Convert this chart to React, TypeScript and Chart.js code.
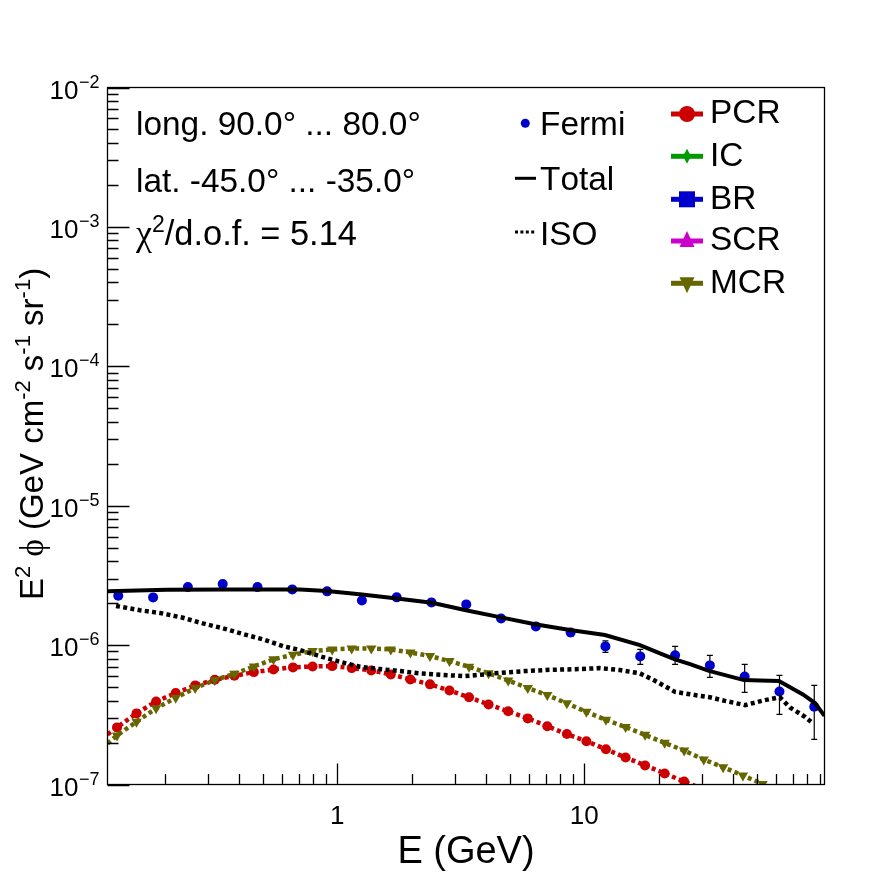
import React, { useEffect, useRef } from 'react';
import Chart from 'chart.js/auto';

// energies in GeV
const xMin = 0.1174;
const xMax = 93.9;
const yMin = 1e-7;
const yMax = 1e-2;

const fermiE = [0.1298, 0.1796, 0.2484, 0.3436, 0.4753, 0.6573, 0.9094, 1.258, 1.74, 2.406, 3.328, 4.604, 6.369, 8.807, 12.18, 16.85, 23.32, 32.25, 44.61, 61.71, 85.34];
const fermiValues = [2.258e-6, 2.199e-6, 2.607e-6, 2.739e-6, 2.607e-6, 2.51e-6, 2.43e-6, 2.09e-6, 2.2e-6, 2.025e-6, 1.959e-6, 1.554e-6, 1.362e-6, 1.233e-6, 9.79e-7, 8.3e-7, 8.44e-7, 7.15e-7, 5.96e-7, 4.65e-7, 3.61e-7];
const fermiHigh = [2.33e-6, 2.27e-6, 2.69e-6, 2.82e-6, 2.69e-6, 2.59e-6, 2.5e-6, 2.16e-6, 2.27e-6, 2.09e-6, 2.03e-6, 1.61e-6, 1.42e-6, 1.29e-6, 1.074e-6, 9.31e-7, 9.79e-7, 8.44e-7, 7.27e-7, 6.06e-7, 5.14e-7];
const fermiLow = [2.19e-6, 2.13e-6, 2.53e-6, 2.66e-6, 2.53e-6, 2.43e-6, 2.36e-6, 2.02e-6, 2.13e-6, 1.96e-6, 1.89e-6, 1.5e-6, 1.31e-6, 1.16e-6, 8.86e-7, 7.27e-7, 7.27e-7, 5.87e-7, 4.58e-7, 3.18e-7, 2.11e-7];

const totalE = [0.1174, 0.2038, 0.3678, 0.7063, 0.9085, 1.259, 1.745, 2.418, 3.319, 4.6, 6.315, 8.752, 12.13, 16.81, 20.26, 23.3, 26.8, 31.99, 44.3, 51.5, 61.4, 71.3, 76.8, 85.9, 93.9];
const totalValues = [2.43e-6, 2.5e-6, 2.51e-6, 2.51e-6, 2.44e-6, 2.31e-6, 2.16e-6, 2.01e-6, 1.78e-6, 1.58e-6, 1.41e-6, 1.285e-6, 1.18e-6, 1e-6, 8.72e-7, 7.9e-7, 7.31e-7, 6.54e-7, 5.61e-7, 5.57e-7, 5.52e-7, 4.76e-7, 4.43e-7, 3.84e-7, 3.11e-7];

const isoE = [0.1271, 0.1589, 0.1916, 0.2373, 0.286, 0.3445, 0.423, 0.5001, 0.6029, 0.7063, 0.8673, 1.025, 1.236, 1.489, 1.794, 2.162, 2.605, 3.289, 3.782, 4.557, 5.752, 7.261, 9.608, 11.58, 13.95, 16.81, 19.33, 23.3, 28.06, 32.28, 37.12, 44.74, 53.9, 62, 68.06, 78.26, 82.78];
const isoValues = [1.91e-6, 1.78e-6, 1.7e-6, 1.57e-6, 1.43e-6, 1.32e-6, 1.19e-6, 1.1e-6, 9.83e-7, 9.21e-7, 8.24e-7, 7.59e-7, 6.99e-7, 6.73e-7, 6.51e-7, 6.27e-7, 6.12e-7, 5.99e-7, 6.12e-7, 6.33e-7, 6.51e-7, 6.65e-7, 6.73e-7, 6.84e-7, 6.62e-7, 6.27e-7, 5.55e-7, 4.62e-7, 4.38e-7, 4.22e-7, 3.98e-7, 3.71e-7, 4.03e-7, 4.22e-7, 3.57e-7, 3.06e-7, 2.82e-7];

const modelE = [0.1174, 0.1283, 0.1539, 0.1847, 0.2217, 0.2659, 0.3192, 0.3832, 0.4596, 0.5517, 0.6616, 0.7943, 0.9537, 1.144, 1.373, 1.647, 1.977, 2.373, 2.846, 3.416, 4.098, 4.919, 5.906, 7.084, 8.503, 10.2, 12.24, 14.7, 17.63, 21.16, 25.38, 30.46, 36.5, 43.9, 52.7, 63.2];
const pcrValues = [2.29e-7, 2.568e-7, 3.236e-7, 3.945e-7, 4.525e-7, 5.14e-7, 5.64e-7, 6.02e-7, 6.4e-7, 6.69e-7, 6.92e-7, 7.03e-7, 7.07e-7, 6.84e-7, 6.58e-7, 6.16e-7, 5.67e-7, 5.23e-7, 4.73e-7, 4.22e-7, 3.75e-7, 3.35e-7, 2.98e-7, 2.62e-7, 2.3e-7, 2.04e-7, 1.79e-7, 1.56e-7, 1.37e-7, 1.2e-7, 1.05e-7, 9.2e-8];
const mcrValues = [1.97e-7, 2.25e-7, 2.82e-7, 3.52e-7, 4.19e-7, 4.92e-7, 5.61e-7, 6.22e-7, 7.03e-7, 7.9e-7, 8.52e-7, 9.06e-7, 9.31e-7, 9.47e-7, 9.47e-7, 9.31e-7, 8.86e-7, 8.34e-7, 7.68e-7, 6.99e-7, 6.27e-7, 5.58e-7, 4.92e-7, 4.38e-7, 3.82e-7, 3.32e-7, 2.91e-7, 2.58e-7, 2.27e-7, 1.99e-7, 1.75e-7, 1.51e-7, 1.33e-7, 1.16e-7, 1.01e-7, 8.8e-8];

const xTicks = [0.2, 0.3, 0.4, 0.5, 0.6, 0.7, 0.8, 0.9, 1, 2, 3, 4, 5, 6, 7, 8, 9, 10, 20, 30, 40, 50, 60, 70, 80, 90];
const xLabelled = [1, 10];
const yDecades = [1e-7, 1e-6, 1e-5, 1e-4, 1e-3, 1e-2];
const yExponents = ['\u22127', '\u22126', '\u22125', '\u22124', '\u22123', '\u22122'];
const yMinorSteps = [2, 3, 4, 5, 6, 7, 8, 9];

const infoLines = ['long. 90.0\u00b0 ... 80.0\u00b0', 'lat. -45.0\u00b0 ... -35.0\u00b0'];
const rightNames = ['PCR', 'IC', 'BR', 'SCR', 'MCR'];

const RED = '#cc0000';
const GREEN = '#009900';
const BLUE = '#0000cc';
const MAGENTA = '#cc00cc';
const OLIVE = '#666600';

const SANS = '"Liberation Sans"';
const SERIF = '"Liberation Serif"';

const zip = (xs: number[], ys: number[]) => ys.map((y, i) => ({ x: xs[i], y }));

const yTicks: number[] = [];
yDecades.forEach((d, i) => {
  yTicks.push(d);
  if (i < yDecades.length - 1) yMinorSteps.forEach(m => yTicks.push(d * m));
});

type Seg = { text: string; font: string; dy?: number };

const drawSegs = (ctx: CanvasRenderingContext2D, segs: Seg[], x: number, y: number) => {
  let cx = x;
  segs.forEach(s => {
    ctx.font = s.font;
    ctx.fillText(s.text, cx, y + (s.dy || 0));
    cx += ctx.measureText(s.text).width;
  });
};

const marker = (ctx: CanvasRenderingContext2D, kind: string, x: number, y: number, c: string) => {
  ctx.fillStyle = c;
  ctx.beginPath();
  if (kind === 'circle') {
    ctx.arc(x, y, 8, 0, Math.PI * 2);
  } else if (kind === 'diamond') {
    ctx.moveTo(x, y - 7.5);
    ctx.lineTo(x + 4, y);
    ctx.lineTo(x, y + 7.5);
    ctx.lineTo(x - 4, y);
  } else if (kind === 'square') {
    ctx.rect(x - 8, y - 8, 16, 16);
  } else if (kind === 'up') {
    ctx.moveTo(x, y - 10);
    ctx.lineTo(x + 7.5, y + 6);
    ctx.lineTo(x - 7.5, y + 6);
  } else {
    ctx.moveTo(x - 7.5, y - 6);
    ctx.lineTo(x + 7.5, y - 6);
    ctx.lineTo(x, y + 10);
  }
  ctx.closePath();
  ctx.fill();
};

// error bars go under the points
const errorBars = {
  id: 'errorBars',
  beforeDatasetsDraw(chart: any) {
    const { ctx, scales } = chart;
    ctx.save();
    ctx.strokeStyle = '#000';
    ctx.lineWidth = 1.2;
    fermiE.forEach((e, i) => {
      const x = scales.x.getPixelForValue(e);
      const hi = scales.y.getPixelForValue(fermiHigh[i]);
      const lo = scales.y.getPixelForValue(fermiLow[i]);
      ctx.beginPath();
      ctx.moveTo(x, hi);
      ctx.lineTo(x, lo);
      ctx.moveTo(x - 3, hi);
      ctx.lineTo(x + 3, hi);
      ctx.moveTo(x - 3, lo);
      ctx.lineTo(x + 3, lo);
      ctx.stroke();
    });
    ctx.restore();
  },
};

// frame, inward ticks, exponents, y title and the legends
const decorations = {
  id: 'decorations',
  afterDraw(chart: any) {
    const { ctx, chartArea: a, scales } = chart;
    ctx.save();
    ctx.strokeStyle = '#000';
    ctx.lineWidth = 1.3;
    ctx.strokeRect(a.left, a.top, a.right - a.left, a.bottom - a.top);

    ctx.beginPath();
    xTicks.forEach(t => {
      const x = Math.round(scales.x.getPixelForValue(t)) + 0.5;
      const len = xLabelled.includes(t) ? 21 : 10.5;
      ctx.moveTo(x, a.bottom);
      ctx.lineTo(x, a.bottom - len);
    });
    yTicks.forEach(t => {
      const y = Math.round(scales.y.getPixelForValue(t)) + 0.5;
      const len = yDecades.includes(t) ? 22 : 11;
      ctx.moveTo(a.left, y);
      ctx.lineTo(a.left + len, y);
    });
    ctx.stroke();

    ctx.fillStyle = '#000';
    ctx.textAlign = 'left';
    ctx.textBaseline = 'alphabetic';
    ctx.fontKerning = 'none';
    ctx.font = `18px ${SANS}`;
    yDecades.forEach((d, i) => {
      ctx.fillText(yExponents[i], 79, scales.y.getPixelForValue(d));
    });

    // y axis title, rotated
    ctx.save();
    ctx.translate(43, 600);
    ctx.rotate(-Math.PI / 2);
    const big = `33px ${SANS}`;
    const sup = `22px ${SANS}`;
    drawSegs(ctx, [
      { text: 'E', font: big },
      { text: '2', font: sup, dy: -13 },
      { text: ' ', font: big },
      { text: '\u03d5', font: `33px ${SERIF}` },
      { text: ' (GeV cm', font: big },
      { text: '-2', font: sup, dy: -13 },
      { text: ' s', font: big },
      { text: '-1', font: sup, dy: -13 },
      { text: ' sr', font: big },
      { text: '-1', font: sup, dy: -13 },
      { text: ')', font: big },
    ], 0, 0);
    ctx.restore();

    // info text
    const text = `33.4px ${SANS}`;
    ctx.font = text;
    ctx.fillText(infoLines[0], 136, 135);
    ctx.fillText(infoLines[1], 136, 191.5);
    drawSegs(ctx, [
      { text: '\u03c7', font: `36px ${SERIF}` },
      { text: '2', font: `23px ${SANS}`, dy: -13 },
      { text: '/d.o.f. = 5.14', font: `34.4px ${SANS}` },
    ], 136, 245);

    // left legend
    ctx.font = text;
    ctx.fillStyle = '#000';
    ctx.fillText('Fermi', 540, 134.5);
    ctx.fillText('Total', 540, 190);
    ctx.fillText('ISO', 540, 245);
    ctx.fillStyle = BLUE;
    ctx.beginPath();
    ctx.arc(525.3, 123.3, 4.5, 0, Math.PI * 2);
    ctx.fill();
    ctx.strokeStyle = '#000';
    ctx.lineWidth = 3;
    ctx.beginPath();
    ctx.moveTo(515, 178.3);
    ctx.lineTo(536, 178.3);
    ctx.stroke();
    ctx.setLineDash([3, 2.4]);
    ctx.beginPath();
    ctx.moveTo(515, 232);
    ctx.lineTo(536, 232);
    ctx.stroke();
    ctx.setLineDash([]);

    // right legend
    const colors = [RED, GREEN, BLUE, MAGENTA, OLIVE];
    const kinds = ['circle', 'diamond', 'square', 'up', 'down'];
    const rows = [114, 156.3, 199.3, 241, 283.3];
    rightNames.forEach((name, i) => {
      const y = rows[i];
      ctx.strokeStyle = colors[i];
      ctx.lineWidth = 5;
      ctx.beginPath();
      ctx.moveTo(671, y);
      ctx.lineTo(703, y);
      ctx.stroke();
      marker(ctx, kinds[i], 687, y, colors[i]);
      ctx.fillStyle = '#000';
      ctx.font = text;
      ctx.fillText(name, 710, y + 9.3);
    });
    ctx.restore();
  },
};

const App: React.FC = () => {
  const canvasRef = useRef<HTMLCanvasElement>(null);

  useEffect(() => {
    if (!canvasRef.current) return;

    const chart = new Chart(canvasRef.current, {
      type: 'line',
      data: {
        datasets: [
          {
            label: 'Total',
            data: zip(totalE, totalValues),
            borderColor: '#000',
            borderWidth: 4,
            pointRadius: 0,
            tension: 0,
            clip: 0,
          },
          {
            label: 'ISO',
            data: zip(isoE, isoValues),
            borderColor: '#000',
            borderWidth: 4.5,
            borderDash: [4, 3.3],
            pointRadius: 0,
            tension: 0,
            clip: 0,
          },
          {
            label: 'MCR',
            data: zip(modelE, mcrValues),
            borderColor: OLIVE,
            backgroundColor: OLIVE,
            borderWidth: 4.5,
            borderDash: [4, 3.3],
            pointStyle: 'triangle',
            pointRotation: 180,
            pointBorderWidth: 0,
            pointRadius: (c: any) => (c.dataIndex === 0 ? 0 : 6),
            tension: 0,
            clip: 0,
          },
          {
            label: 'PCR',
            data: zip(modelE, pcrValues),
            borderColor: RED,
            backgroundColor: RED,
            borderWidth: 4.5,
            borderDash: [4, 3.3],
            pointStyle: 'circle',
            pointBorderWidth: 0,
            pointRadius: (c: any) => (c.dataIndex === 0 ? 0 : 5),
            tension: 0,
            clip: 0,
          },
          {
            label: 'Fermi',
            data: zip(fermiE, fermiValues),
            borderColor: BLUE,
            backgroundColor: BLUE,
            showLine: false,
            pointStyle: 'circle',
            pointBorderWidth: 0,
            pointRadius: 5,
          },
        ],
      },
      options: {
        responsive: false,
        animation: false,
        devicePixelRatio: 1,
        layout: { padding: { top: 87.5, right: 71.5, left: 0, bottom: 0 } },
        plugins: { legend: { display: false }, tooltip: { enabled: false }, title: { display: false } },
        scales: {
          x: {
            type: 'logarithmic',
            min: xMin,
            max: xMax,
            grid: { display: false, drawTicks: false },
            border: { display: false },
            afterBuildTicks: (axis: any) => {
              axis.ticks = xTicks.map(value => ({ value }));
            },
            afterFit: (axis: any) => {
              axis.height = 87.5;
            },
            ticks: {
              autoSkip: false,
              maxRotation: 0,
              padding: 17,
              color: '#000',
              font: { family: 'Liberation Sans', size: 26 },
              callback: (v: any) => (xLabelled.includes(v) ? String(v) : ''),
            },
            title: {
              display: true,
              text: 'E (GeV)',
              color: '#000',
              font: { family: 'Liberation Sans', size: 38, lineHeight: 1.05 },
              padding: { top: 0, bottom: 0 },
            },
          },
          y: {
            type: 'logarithmic',
            min: yMin,
            max: yMax,
            grid: { display: false, drawTicks: false },
            border: { display: false },
            afterBuildTicks: (axis: any) => {
              axis.ticks = yTicks.map(value => ({ value }));
            },
            afterFit: (axis: any) => {
              axis.width = 107.5;
            },
            ticks: {
              autoSkip: false,
              padding: 29,
              labelOffset: 4,
              color: '#000',
              font: { family: 'Liberation Sans', size: 26 },
              callback: (v: any) => (yDecades.includes(v) ? '10' : ''),
            },
          },
        },
      } as any,
      plugins: [errorBars, decorations],
    } as any);

    return () => {
      chart.destroy();
    };
  }, []);

  return (
    <div style={{ position: 'absolute', left: 0, top: 0, width: 896, height: 872, background: '#fff' }}>
      <canvas ref={canvasRef} width={896} height={872} style={{ display: 'block' }}></canvas>
    </div>
  );
};

export default App;
